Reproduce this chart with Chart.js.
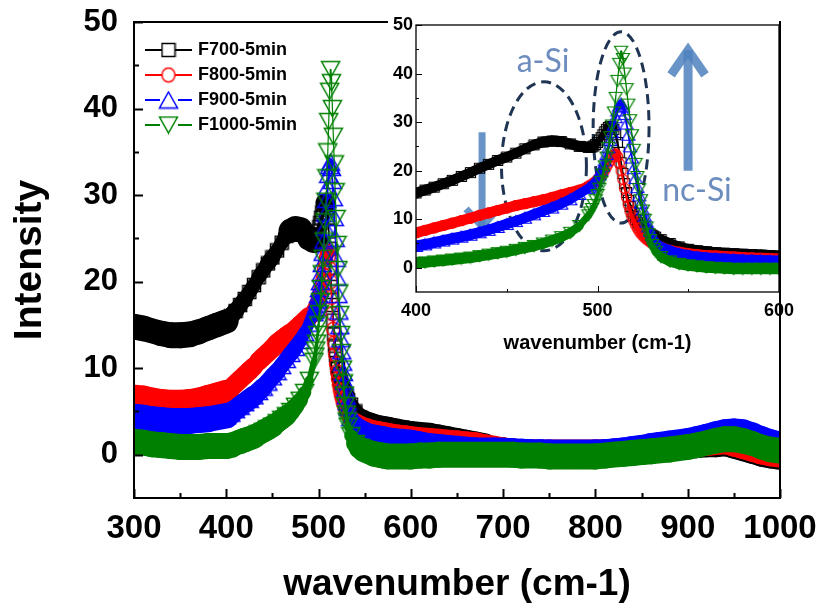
<!DOCTYPE html>
<html lang="en">
<head>
<meta charset="UTF-8">
<title>Raman spectra F700-F1000 (5 min)</title>
<script src="https://cdn.jsdelivr.net/npm/chart.js@4.4.1/dist/chart.umd.min.js"></script>
<style>
  body { margin: 0; background: #fff; overflow: hidden; }
  #wrap { position: relative; width: 821px; height: 609px; }
  #main { position: absolute; left: 0; top: 0; }
  #inset { position: absolute; left: 388px; top: 0; }
</style>
</head>
<body>
<div id="wrap">
  <canvas id="main" width="821" height="609"></canvas>
  <canvas id="inset" width="433" height="360"></canvas>
</div>
<script>
// wavenumber (cm-1), denser around the Si peak
const wavenumber = [
  300, 310, 320, 330, 340, 350, 360, 370, 380, 390,
  400, 405, 410, 415, 420, 425, 430, 435, 440, 445, 450, 455, 460, 465, 470, 475, 480, 485, 490, 495,
  496, 497, 498, 499, 500, 501, 502, 503, 504, 505, 506, 507, 508, 509, 510, 511, 512, 513, 514, 515,
  516, 517, 518, 519, 520, 521, 522, 523, 524, 525, 526, 527, 528, 529, 530, 531, 532,
  535, 540, 545, 550, 555, 560, 565, 570, 575, 580, 585, 590, 595, 600,
  610, 620, 630, 640, 650, 660, 670, 680, 690, 700, 710, 720, 730, 740, 750, 760, 770, 780, 790, 800,
  810, 820, 830, 840, 850, 860, 870, 880, 890, 900, 910, 920, 930, 940, 950, 960, 970, 980, 990, 1000
];

const seriesNames = ['F700-5min', 'F800-5min', 'F900-5min', 'F1000-5min'];

const f700 = [
  14.8, 14.6, 14.3, 14.0, 13.8, 13.8, 13.9, 14.2, 14.6, 15.0,
  15.4, 16.0, 16.6, 17.3, 18.0, 18.8, 19.6, 20.5, 21.3, 22.1, 22.8, 23.6, 24.5, 25.3, 25.9, 26.1, 26.0, 25.5, 25.0, 24.8,
  24.8, 24.9, 25.1, 25.4, 25.8, 26.3, 26.8, 27.4, 28.0, 28.5, 28.9, 29.1, 29.0, 28.5, 27.4, 25.8, 23.8, 21.6, 19.4, 17.3,
  15.5, 13.9, 12.6, 11.5, 10.6, 9.9, 9.3, 8.8, 8.4, 8.0, 7.7, 7.4, 7.1, 6.9, 6.7, 6.5, 6.3,
  5.8, 5.0, 4.3, 3.8, 3.5, 3.3, 3.1, 3.0, 2.9, 2.8, 2.7, 2.6, 2.5, 2.4,
  2.3, 2.2, 2.0, 1.8, 1.6, 1.4, 1.2, 1.0, 0.6, 0.5, 0.3, 0.2, 0.2, 0.2, 0.2, 0.2, 0.2, 0.2, 0.2, 0.2,
  0.2, 0.3, 0.35, 0.4, 0.5, 0.6, 0.7, 0.8, 0.9, 1.0, 1.1, 1.2, 1.2, 1.3, 1.0, 0.7, 0.4, 0.1, -0.1, -0.25
];

const f800 = [
  6.6, 6.5, 6.3, 6.1, 6.0, 6.0, 6.1, 6.3, 6.6, 6.9,
  7.2, 7.7, 8.2, 8.7, 9.2, 9.7, 10.2, 10.8, 11.3, 11.8, 12.3, 12.8, 13.2, 13.6, 14.0, 14.5, 15.0, 15.5, 16.0, 16.8,
  17.0, 17.2, 17.5, 17.8, 18.2, 18.6, 19.0, 19.5, 20.1, 20.8, 21.5, 22.2, 22.8, 23.3, 23.5, 22.9, 21.5, 20.0, 18.2, 16.3,
  14.5, 12.9, 11.6, 10.5, 9.6, 8.8, 8.1, 7.5, 7.0, 6.6, 6.2, 5.9, 5.6, 5.3, 5.1, 4.9, 4.7,
  4.2, 3.6, 3.2, 2.9, 2.7, 2.5, 2.4, 2.3, 2.2, 2.1, 2.0, 1.95, 1.9, 1.8,
  1.7, 1.6, 1.5, 1.4, 1.3, 1.2, 1.1, 0.9, 0.7, 0.5, 0.4, 0.25, 0.25, 0.25, 0.25, 0.25, 0.25, 0.25, 0.25, 0.25,
  0.3, 0.35, 0.45, 0.55, 0.65, 0.8, 0.9, 1.0, 1.1, 1.2, 1.3, 1.35, 1.45, 1.55, 1.25, 0.95, 0.65, 0.35, 0.15, 0.0
];

const f900 = [
  4.4, 4.3, 4.1, 4.0, 3.9, 3.9, 3.9, 4.0, 4.1, 4.3,
  4.5, 4.8, 5.2, 5.6, 6.0, 6.4, 6.8, 7.3, 7.8, 8.4, 9.0, 9.6, 10.3, 11.0, 11.7, 12.4, 13.2, 14.1, 15.2, 16.4,
  16.7, 17.0, 17.4, 17.9, 18.5, 19.2, 20.0, 21.0, 22.1, 23.4, 24.8, 26.3, 27.9, 29.5, 31.0, 32.4, 33.4, 33.8, 33.2, 31.7,
  29.7, 27.4, 25.0, 22.7, 20.5, 18.5, 16.6, 14.9, 13.4, 12.0, 10.7, 9.5, 8.5, 7.6, 6.8, 6.1, 5.5,
  4.3, 3.5, 2.9, 2.5, 2.2, 2.0, 1.9, 1.8, 1.7, 1.6, 1.55, 1.5, 1.45, 1.4,
  1.2, 1.0, 0.9, 0.8, 0.7, 0.6, 0.5, 0.5, 0.5, 0.45, 0.4, 0.35, 0.3, 0.3, 0.25, 0.25, 0.25, 0.25, 0.25, 0.25,
  0.3, 0.4, 0.5, 0.65, 0.8, 1.0, 1.15, 1.3, 1.45, 1.6, 1.85, 2.1, 2.4, 2.6, 2.7, 2.6, 2.3, 1.9, 1.5, 1.2
];

const f1000 = [
  1.5, 1.4, 1.2, 1.1, 1.0, 0.9, 0.9, 0.9, 1.0, 1.0,
  1.0, 1.1, 1.3, 1.5, 1.7, 1.9, 2.1, 2.4, 2.7, 3.0, 3.3, 3.7, 4.1, 4.5, 5.0, 5.6, 6.3, 7.2, 8.6, 10.8,
  11.4, 12.1, 12.9, 13.9, 15.0, 16.3, 17.7, 19.2, 20.9, 22.7, 24.7, 26.9, 29.3, 32.0, 35.0, 38.5, 42.0, 44.5, 43.0, 40.0,
  36.8, 33.6, 30.4, 27.3, 24.3, 21.4, 18.7, 16.2, 13.9, 11.8, 9.9, 8.3, 6.9, 5.7, 4.7, 3.9, 3.3,
  2.2, 1.3, 0.8, 0.5, 0.3, 0.1, 0.0, -0.1, -0.2, -0.2, -0.2, -0.2, -0.2, -0.2,
  -0.1, -0.1, 0.0, 0.0, 0.0, 0.0, 0.0, 0.0, 0.0, 0.0, 0.0, -0.1, -0.1, -0.1, -0.2, -0.2, -0.2, -0.2, -0.2, -0.2,
  -0.1, 0.0, 0.1, 0.2, 0.3, 0.4, 0.5, 0.6, 0.75, 0.9, 1.1, 1.35, 1.6, 1.8, 1.8, 1.6, 1.3, 0.9, 0.6, 0.45
];

const seriesValues = [f700, f800, f900, f1000];
const seriesColors = ['#000000', '#ff0000', '#0000ff', '#008000'];
const markerShapes = ['square', 'circle', 'triangle', 'invTriangle'];

const FONT = 'Arial, "Liberation Sans", sans-serif';

// hollow marker drawn on a small canvas, used as pointStyle
function makeMarker(shape, color, w, h, lw) {
  const c = document.createElement('canvas');
  c.width = Math.ceil(w + lw * 2);
  c.height = Math.ceil(h + lw * 2);
  const g = c.getContext('2d');
  const x0 = (c.width - w) / 2, y0 = (c.height - h) / 2;
  g.strokeStyle = color;
  g.lineWidth = lw;
  g.beginPath();
  if (shape === 'square') {
    g.rect(x0, y0, w, h);
  } else if (shape === 'circle') {
    g.ellipse(c.width / 2, c.height / 2, w / 2, h / 2, 0, 0, Math.PI * 2);
  } else if (shape === 'triangle') {
    g.moveTo(x0 + w / 2, y0); g.lineTo(x0 + w, y0 + h); g.lineTo(x0, y0 + h); g.closePath();
  } else {
    g.moveTo(x0, y0); g.lineTo(x0 + w, y0); g.lineTo(x0 + w / 2, y0 + h); g.closePath();
  }
  g.stroke();
  return c;
}

const mainSizes = { square: [13, 13], circle: [13, 14], triangle: [18, 16], invTriangle: [18, 16] };
const insetSizes = { square: [10, 10], circle: [10, 10], triangle: [13, 11], invTriangle: [13, 11] };

const mainMarkers = markerShapes.map((s, i) => makeMarker(s, seriesColors[i], mainSizes[s][0], mainSizes[s][1], 1.5));
const insetMarkers = markerShapes.map((s, i) => makeMarker(s, seriesColors[i], insetSizes[s][0], insetSizes[s][1], 1.2));

// legend icon: short line with the marker in the middle
const legendIcons = mainMarkers.map((m, i) => {
  const c = document.createElement('canvas');
  c.width = 47; c.height = 20;
  const g = c.getContext('2d');
  g.strokeStyle = seriesColors[i];
  g.lineWidth = 2;
  g.beginPath(); g.moveTo(0, 10); g.lineTo(47, 10); g.stroke();
  const mx = (47 - m.width) / 2, my = (20 - m.height) / 2;
  g.clearRect(mx + 1.5, my + 1.5, m.width - 3, m.height - 3);
  g.drawImage(m, mx, my);
  return c;
});

// the overlapping markers form a thick band; keep the band's vertical
// thickness constant so steep flanks stay thin and the markers show
function bandWidth(ctx, thick) {
  const dx = Math.abs(ctx.p1.x - ctx.p0.x);
  const dy = Math.abs(ctx.p1.y - ctx.p0.y);
  const len = Math.hypot(dx, dy) || 1;
  return Math.max(1.2, thick * dx / len);
}

function buildDatasets(markers, band) {
  return seriesNames.map((name, i) => ({
    label: name,
    data: wavenumber.map((x, j) => ({ x, y: seriesValues[i][j] })),
    borderColor: seriesColors[i],
    backgroundColor: seriesColors[i],
    pointStyle: markers[i],
    pointRadius: 6,
    tension: 0,
    borderCapStyle: 'round',
    borderJoinStyle: 'round',
    order: seriesNames.length - i,
    clip: 0,
    segment: {
      borderWidth: ctx => bandWidth(ctx, band),
      borderCapStyle: 'round'
    }
  }));
}

// frame box plus inward tick marks
const frameTicks = {
  id: 'frameTicks',
  afterDraw(chart, args, o) {
    const { ctx, chartArea: a, scales: { x, y } } = chart;
    ctx.save();
    ctx.strokeStyle = '#000';
    ctx.lineWidth = o.tickWidth;
    ctx.beginPath();
    for (let v = x.min; v <= x.max; v += o.xMinor) {
      const px = Math.round(x.getPixelForValue(v)) + 0.5;
      const len = (v % o.xMajor === 0) ? o.major : o.minor;
      ctx.moveTo(px, a.bottom); ctx.lineTo(px, a.bottom - len);
    }
    for (let v = 0; v <= y.max; v += o.yMinor) {
      const py = Math.round(y.getPixelForValue(v)) + 0.5;
      const len = (v % o.yMajor === 0) ? o.major : o.minor;
      ctx.moveTo(a.left, py); ctx.lineTo(a.left + len, py);
    }
    ctx.stroke();
    ctx.lineWidth = o.frame;
    ctx.strokeRect(a.left, a.top, a.right - a.left, a.bottom - a.top);
    ctx.restore();
  }
};

const legendBlock = {
  id: 'legendBlock',
  afterDatasetsDraw(chart, args, o) {
    const ctx = chart.ctx;
    ctx.save();
    ctx.font = 'bold 18px ' + FONT;
    ctx.fillStyle = '#000';
    ctx.textBaseline = 'middle';
    chart.data.datasets.forEach((ds, i) => {
      const yy = o.top + i * o.step;
      ctx.drawImage(legendIcons[i], o.left, yy - legendIcons[i].height / 2);
      ctx.fillText(ds.label, o.textLeft, yy);
    });
    ctx.restore();
  }
};

// white panel behind the inset
const insetPanel = {
  id: 'insetPanel',
  beforeDraw(chart) {
    const { ctx, chartArea: a } = chart;
    ctx.save();
    ctx.fillStyle = '#fff';
    ctx.fillRect(0, 0, a.right, chart.height);
    ctx.restore();
  }
};

// a-Si / nc-Si markings, placed in data units of the inset
const insetNotes = {
  id: 'insetNotes',
  beforeDatasetsDraw(chart) {
    const { ctx, scales: { x, y } } = chart;
    const px = v => x.getPixelForValue(v);
    const py = v => y.getPixelForValue(v);
    ctx.save();
    ctx.filter = 'blur(0.7px)';

    ctx.strokeStyle = '#1f3553';
    ctx.lineWidth = 3;
    ctx.setLineDash([10, 6]);
    [[470.5, 20.9, 23.4, 17.4], [513, 28.9, 15.4, 19.7]].forEach(([cx, cy, rx, ry]) => {
      ctx.beginPath();
      ctx.ellipse(px(cx), py(cy), Math.abs(px(cx + rx) - px(cx)), Math.abs(py(cy + ry) - py(cy)), 0, 0, Math.PI * 2);
      ctx.stroke();
    });
    ctx.setLineDash([]);

    function arrow(xv, fromV, toV, hw, hl, lw) {
      const ax = px(xv), y0 = py(fromV), y1 = py(toV);
      const dir = y1 < y0 ? 1 : -1;
      ctx.lineWidth = lw;
      ctx.lineJoin = 'miter';
      ctx.beginPath();
      ctx.moveTo(ax, y0); ctx.lineTo(ax, y1 + dir * lw * 0.6);
      ctx.stroke();
      ctx.beginPath();
      ctx.moveTo(ax - hw, y1 + dir * hl); ctx.lineTo(ax, y1 + dir * lw * 0.6); ctx.lineTo(ax + hw, y1 + dir * hl);
      ctx.stroke();
    }
    ctx.strokeStyle = 'rgba(79, 129, 189, 0.85)';
    arrow(549.9, 20.0, 45.9, 17, 30, 9);
    arrow(436.4, 27.9, 7.6, 16, 22, 7);

    ctx.fillStyle = '#6d8dbe';
    ctx.font = '32px Lato, "Open Sans", sans-serif';
    ctx.textAlign = 'center';
    ctx.textBaseline = 'middle';
    ctx.fillText('a-Si', px(470), py(42.4));
    ctx.fillText('nc-Si', px(554.8), py(15.9));
    ctx.restore();
  }
};

function axisOptions(cfg) {
  return {
    type: 'linear',
    min: cfg.min,
    max: cfg.max,
    grid: { display: false, drawTicks: false },
    border: { display: false },
    ticks: {
      stepSize: cfg.step,
      includeBounds: false,
      autoSkip: false,
      maxRotation: 0,
      padding: cfg.tickPad,
      color: '#000',
      font: { family: FONT, size: cfg.tickSize, weight: 'bold' },
      callback: v => String(v)
    },
    title: {
      display: cfg.title !== '',
      text: cfg.title,
      color: '#000',
      font: { family: FONT, size: cfg.titleSize, weight: 'bold' },
      padding: cfg.titlePad
    },
    // fixed axis box, no extra room for overhanging end labels
    afterFit: s => {
      if (cfg.height) s.height = cfg.height;
      if (cfg.width) s.width = cfg.width;
      s.paddingTop = 0; s.paddingBottom = 0; s.paddingLeft = 0; s.paddingRight = 0;
    }
  };
}

new Chart(document.getElementById('main'), {
  type: 'line',
  data: { datasets: buildDatasets(mainMarkers, 26) },
  options: {
    responsive: false,
    animation: false,
    devicePixelRatio: 1,
    events: [],
    layout: { padding: { left: 0, top: 22, right: 41, bottom: 0 } },
    plugins: {
      legend: { display: false },
      tooltip: { enabled: false },
      frameTicks: { tickWidth: 2, frame: 2, major: 9, minor: 5, xMajor: 100, xMinor: 50, yMajor: 10, yMinor: 5 },
      legendBlock: { left: 145, textLeft: 198, top: 50, step: 25 }
    },
    scales: {
      x: axisOptions({ min: 300, max: 1000, step: 100, tickPad: 11, tickSize: 33, title: 'wavenumber (cm-1)', titleSize: 37,
                       titlePad: { top: 0, bottom: 2 }, height: 111 }),
      y: axisOptions({ min: -5, max: 50, step: 10, tickPad: 16, tickSize: 31, title: 'Intensity', titleSize: 39,
                       titlePad: { top: 7, bottom: 0 }, width: 134 })
    }
  },
  plugins: [frameTicks, legendBlock]
});

new Chart(document.getElementById('inset'), {
  type: 'line',
  data: { datasets: buildDatasets(insetMarkers, 11) },
  options: {
    responsive: false,
    animation: false,
    devicePixelRatio: 1,
    events: [],
    layout: { padding: { left: 0, top: 25, right: 42, bottom: 0 } },
    plugins: {
      legend: { display: false },
      tooltip: { enabled: false },
      frameTicks: { tickWidth: 1, frame: 1.3, major: 6, minor: 3, xMajor: 100, xMinor: 50, yMajor: 10, yMinor: 5 }
    },
    scales: {
      x: axisOptions({ min: 400, max: 600, step: 100, tickPad: 8, tickSize: 18, title: 'wavenumber (cm-1)', titleSize: 20,
                       titlePad: { top: 0, bottom: 5 }, height: 68 }),
      y: axisOptions({ min: -5, max: 50, step: 10, tickPad: 3, tickSize: 18, title: '', titleSize: 18,
                       titlePad: 0, width: 28 })
    }
  },
  plugins: [insetPanel, insetNotes, frameTicks]
});
</script>
</body>
</html>
